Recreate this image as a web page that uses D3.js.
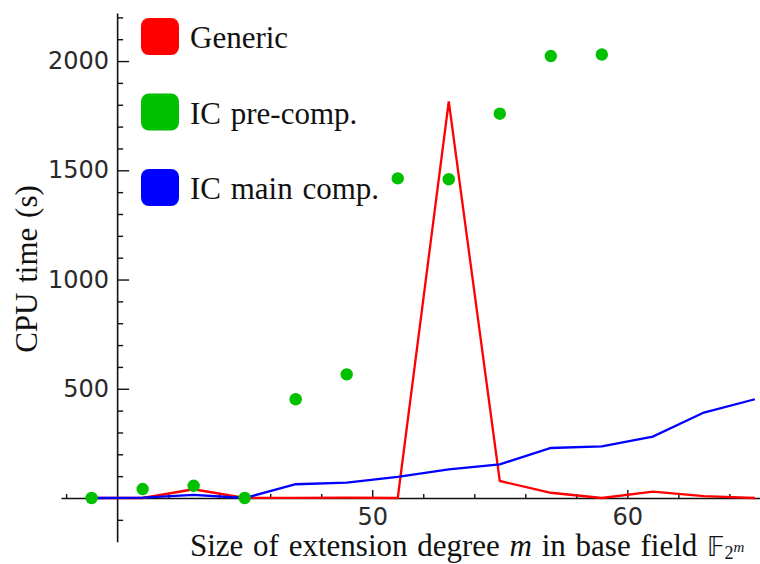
<!DOCTYPE html>
<html>
<head>
<meta charset="utf-8">
<script src="https://cdn.jsdelivr.net/npm/d3@7"></script>
<style>
  body { margin: 0; background: #fff; }
  .tick text { font-family: "DejaVu Sans", sans-serif; font-size: 24px; fill: #2a2a2a; }
  .lbl { font-family: "Liberation Serif", serif; font-size: 31px; fill: #111; word-spacing: 2px; }
</style>
</head>
<body>
<svg id="chart" width="760" height="564"></svg>
<script>
// m values and timings
var mValues = [39, 41, 43, 45, 47, 49, 51, 53, 55, 57, 59, 61, 63, 65];
var genericTimes = [0, 0, 40, 0, 1, 2, 0, 1815, 78, 24, 0, 29, 9, 0];
var icMainTimes = [0, 2, 14, 0, 63, 70, 97, 131, 154, 229, 236, 281, 391, 452];
var icPreM = [39, 41, 43, 45, 47, 49, 51, 53, 55, 57, 59];
var icPreTimes = [0, 41, 56, 0, 452, 566, 1463, 1459, 1759, 2023, 2030];

var xMajor = [50, 60];
var yMajor = [500, 1000, 1500, 2000];

var legendNames = ["Generic", "IC pre-comp.", "IC main comp."];
var legendColors = ["#ff0000", "#00c000", "#0000ff"];

var svg = d3.select("#chart");

var x = d3.scaleLinear().domain([37.8, 65.2]).range([61, 760]);
var y = d3.scaleLinear().domain([-200, 2220]).range([541.7, 13]);

var x0 = x(40), y0 = y(0);

// x axis (ticks point up)
var xMinor = d3.range(38, 65, 2).filter(function(v){ return v != 40 && v % 10 != 0; });
svg.append("g").attr("transform", "translate(0," + y0 + ")")
  .call(d3.axisBottom(x).tickValues(xMinor).tickSizeInner(-4).tickSizeOuter(0).tickFormat(""))
  .call(function(g){ g.select(".domain").attr("stroke", "#111").attr("stroke-width", 1.6); g.selectAll("line").attr("stroke", "#111").attr("stroke-width", 1.4); });
svg.append("g").attr("transform", "translate(0," + y0 + ")")
  .call(d3.axisBottom(x).tickValues(xMajor).tickSizeInner(-8).tickSizeOuter(0).tickPadding(10).tickFormat(d3.format("d")))
  .call(function(g){ g.select(".domain").remove(); g.selectAll("line").attr("stroke", "#111").attr("stroke-width", 1.4); g.selectAll("text").attr("fill", "#2a2a2a"); });

// y axis (ticks point right)
var yMinor = d3.range(-100, 2201, 100).filter(function(v){ return v % 500 != 0; });
svg.append("g").attr("transform", "translate(" + x0 + ",0)")
  .call(d3.axisLeft(y).tickValues(yMinor).tickSizeInner(-6).tickSizeOuter(0).tickFormat(""))
  .call(function(g){ g.select(".domain").attr("stroke", "#111").attr("stroke-width", 1.6); g.selectAll("line").attr("stroke", "#111").attr("stroke-width", 1.4); });
svg.append("g").attr("transform", "translate(" + x0 + ",0)")
  .call(d3.axisLeft(y).tickValues(yMajor).tickSizeInner(-12).tickSizeOuter(0).tickPadding(8).tickFormat(d3.format("d")))
  .call(function(g){ g.select(".domain").remove(); g.selectAll("line").attr("stroke", "#111").attr("stroke-width", 1.4); g.selectAll("text").attr("fill", "#2a2a2a"); });

// lines
var line = d3.line().x(function(d){ return x(d[0]); }).y(function(d){ return y(d[1]); });
svg.append("path").datum(d3.zip(mValues, genericTimes))
  .attr("d", line).attr("fill", "none").attr("stroke", legendColors[0]).attr("stroke-width", 2.3);
svg.append("path").datum(d3.zip(mValues, icMainTimes))
  .attr("d", line).attr("fill", "none").attr("stroke", legendColors[2]).attr("stroke-width", 2.3);

// points
svg.selectAll(".pre").data(d3.zip(icPreM, icPreTimes)).enter().append("circle")
  .attr("class", "pre")
  .attr("cx", function(d){ return x(d[0]); })
  .attr("cy", function(d){ return y(d[1]); })
  .attr("r", 6.2).attr("fill", legendColors[1]);

// legend
var leg = svg.selectAll(".leg").data(legendNames).enter().append("g")
  .attr("class", "leg")
  .attr("transform", function(d, i){ return "translate(141," + (18 + i * 75.5) + ")"; });
leg.append("rect").attr("width", 38).attr("height", 37).attr("rx", 8)
  .attr("fill", function(d, i){ return legendColors[i]; });
leg.append("text").attr("class", "lbl").attr("x", 49).attr("y", 30).text(function(d){ return d; });

// axis labels
svg.append("text").attr("class", "lbl")
  .attr("transform", "translate(37,269) rotate(-90)")
  .attr("text-anchor", "middle").text("CPU time (s)");

var xl = svg.append("text").attr("class", "lbl").attr("x", 190).attr("y", 556);
xl.append("tspan").text("Size of extension degree ");
xl.append("tspan").attr("font-style", "italic").text("m");
xl.append("tspan").text(" in base field ");
xl.append("tspan").attr("font-family", "DejaVu Sans").attr("font-size", 26).text("\uD835\uDD3D");
xl.append("tspan").attr("font-size", 18).attr("dy", 3).text("2");
xl.append("tspan").attr("font-size", 15).attr("font-style", "italic").attr("dy", -7).text("m");
</script>
</body>
</html>
